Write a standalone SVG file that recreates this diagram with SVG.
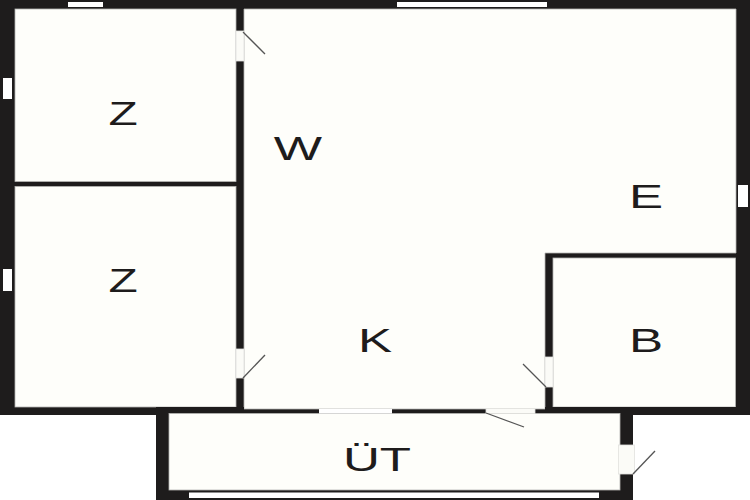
<svg xmlns="http://www.w3.org/2000/svg" width="750" height="500" viewBox="0 0 750 500">
<style>
.wall{fill:#1e1c1c}
.room{fill:#fefefa;stroke:#b5b5b2;stroke-width:.8}
.win{fill:#fff}
.door{fill:#fbfbf7;stroke:#e2e2de;stroke-width:.8}
.swing{fill:none;stroke:#555;stroke-width:1.3}
.lab{font-family:"Liberation Sans",Arial,sans-serif;font-size:33px;fill:#1e1c1c;text-anchor:middle}
</style>
<rect width="750" height="500" fill="#fff"/>
<path class="wall" d="M0 0H750V415H633V500H156V415H0Z"/>
<g id="rooms">
<rect class="room" x="15" y="9" width="221" height="172.500"/>
<rect class="room" x="15" y="186.500" width="221" height="220.500"/>
<path class="room" d="M244 9H736V253H545V409H244Z"/>
<rect class="room" x="553" y="258" width="182.500" height="149"/>
<rect x="545" y="407" width="191" height="2" class="wall"/>
<rect x="156" y="407" width="88" height="2" class="wall"/>
<rect class="room" x="169" y="413.500" width="451" height="76.500"/>
</g>
<g id="windows">
<rect class="win" x="68" y="2" width="35" height="5"/>
<rect class="win" x="397" y="2" width="150" height="5"/>
<rect class="win" x="3" y="78" width="9" height="21"/>
<rect class="win" x="3" y="269" width="9" height="22"/>
<rect class="win" x="738" y="185" width="10" height="22"/>
<rect class="win" x="319" y="409" width="73" height="4.500"/>
<rect class="win" x="189" y="492.500" width="410" height="5.500"/>
</g>
<g id="doors">
<rect class="door" x="236" y="31" width="8" height="30"/>
<rect class="door" x="236" y="349" width="8" height="29"/>
<rect class="door" x="545" y="357" width="8" height="30"/>
<rect class="door" x="486" y="408.500" width="49" height="5"/>
<rect class="door" x="618.500" y="445" width="16" height="29"/>
</g>
<g id="connectors">
<line class="swing" x1="243" y1="32" x2="265" y2="54"/>
<line class="swing" x1="243" y1="378" x2="265" y2="355"/>
<line class="swing" x1="523" y1="364" x2="546" y2="387"/>
<line class="swing" x1="486" y1="413" x2="524" y2="427"/>
<line class="swing" x1="633" y1="474" x2="655" y2="451"/>
</g>
<g id="labels">
<text class="lab" transform="translate(123,125) scale(1.45,1)">Z</text>
<text class="lab" transform="translate(123,292) scale(1.45,1)">Z</text>
<text class="lab" transform="translate(298,160) scale(1.55,1)">W</text>
<text class="lab" transform="translate(646,208) scale(1.55,1)">E</text>
<text class="lab" transform="translate(646,352) scale(1.55,1)">B</text>
<text class="lab" transform="translate(375,352) scale(1.55,1)">K</text>
<text class="lab" transform="translate(377,471) scale(1.55,1)">ÜT</text>
</g>
</svg>
